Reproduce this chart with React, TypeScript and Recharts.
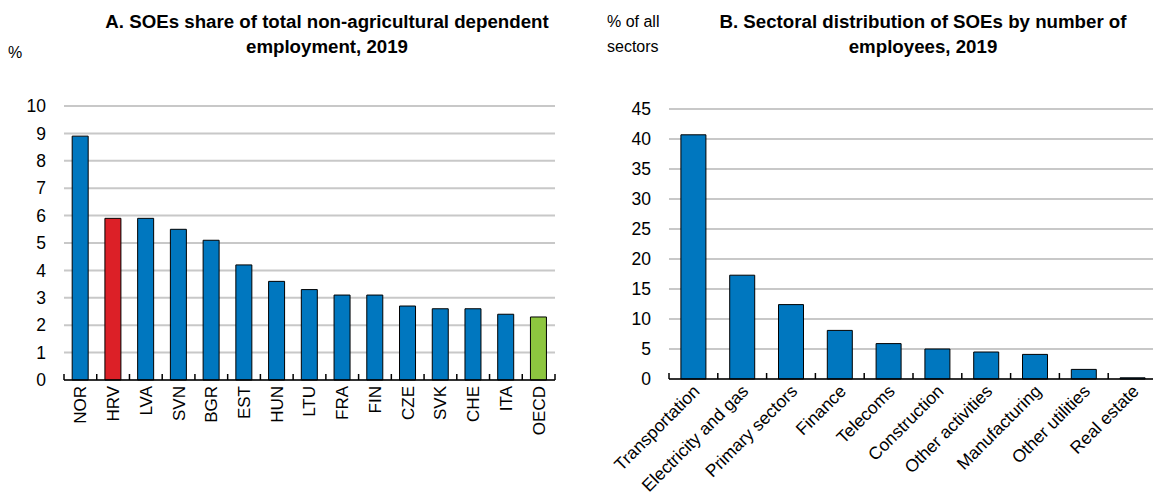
import React from "react";
import { BarChart, Bar, XAxis, YAxis, CartesianGrid, Cell } from "recharts";

const countries = ["NOR", "HRV", "LVA", "SVN", "BGR", "EST", "HUN", "LTU", "FRA", "FIN", "CZE", "SVK", "CHE", "ITA", "OECD"];
const soeShare = [8.9, 5.9, 5.9, 5.5, 5.1, 4.2, 3.6, 3.3, 3.1, 3.1, 2.7, 2.6, 2.6, 2.4, 2.3];
const shareTicks = [0, 1, 2, 3, 4, 5, 6, 7, 8, 9, 10];

const sectors = ["Transportation", "Electricity and gas", "Primary sectors", "Finance", "Telecoms", "Construction", "Other activities", "Manufacturing", "Other utilities", "Real estate"];
const sectorShare = [40.7, 17.3, 12.4, 8.1, 5.9, 5.0, 4.5, 4.1, 1.6, 0.2];
const sectorTicks = [0, 5, 10, 15, 20, 25, 30, 35, 40, 45];

const BLUE = "#0077bf";
const RED = "#dc2027";
const GREEN = "#8dc63f";
const GRID = "#c8c8c8";
const FONT = "'Liberation Sans', Arial, sans-serif";

const dataA = countries.map((name, i) => ({ name, value: soeShare[i] }));
const dataB = sectors.map((name, i) => ({ name, value: sectorShare[i] }));

const colorFor = (name: string) => (name === "HRV" ? RED : name === "OECD" ? GREEN : BLUE);

// category ticks sit on the boundaries between bars, pointing up
const makeTick = (step: number, angle: number, size: number) => (props: any) => {
  const { x, y, payload, index, visibleTicksCount } = props;
  const left = x - step / 2;
  const right = x + step / 2;
  const vertical = angle === -90;
  return (
    <g>
      <line x1={left} y1={y} x2={left} y2={y - 6} stroke="#000" strokeWidth={1.5} />
      {index === visibleTicksCount - 1 && (
        <line x1={right} y1={y} x2={right} y2={y - 6} stroke="#000" strokeWidth={1.5} />
      )}
      <text
        transform={`translate(${x + (vertical ? 0 : 3)},${y + (vertical ? 6 : 9)}) rotate(${angle})`}
        textAnchor="end"
        dy="0.35em"
        fontSize={size}
        fontFamily={FONT}
        fill="#000"
      >
        {payload.value}
      </text>
    </g>
  );
};

const App = () => {
  const stepA = 491 / countries.length;
  const stepB = 488 / sectors.length;
  return (
    <div style={{ position: "fixed", left: 0, top: 0, width: 1153, height: 495, background: "#fff", overflow: "hidden" }}>
      <div style={{ position: "absolute", left: 0, top: 0 }}>
        <BarChart
          width={580}
          height={495}
          data={dataA}
          margin={{ top: 106, right: 25, left: 0, bottom: 65 }}
          barCategoryGap="25%"
        >
          <CartesianGrid vertical={false} stroke={GRID} strokeWidth={2} />
          <XAxis
            dataKey="name"
            interval={0}
            height={50}
            tickSize={0}
            tickMargin={0}
            tickLine={false}
            axisLine={{ stroke: "#000", strokeWidth: 1.5 }}
            tick={makeTick(stepA, -90, 17)}
          />
          <YAxis
            width={64}
            domain={[0, 10]}
            ticks={shareTicks}
            interval={0}
            axisLine={false}
            tickLine={false}
            tickMargin={12}
            tick={{ fill: "#000", fontSize: 17.5, fontFamily: FONT }}
          />
          <Bar dataKey="value" isAnimationActive={false} stroke="#000" strokeWidth={1}>
            {dataA.map((d) => (
              <Cell key={d.name} fill={colorFor(d.name)} />
            ))}
          </Bar>
        </BarChart>
      </div>
      <div style={{ position: "absolute", left: 580, top: 0 }}>
        <BarChart
          width={577}
          height={495}
          data={dataB}
          margin={{ top: 109, right: 0, left: 0, bottom: 66 }}
          barCategoryGap="24.4%"
        >
          <CartesianGrid vertical={false} stroke={GRID} strokeWidth={2} />
          <XAxis
            dataKey="name"
            interval={0}
            height={50}
            tickSize={0}
            tickMargin={0}
            tickLine={false}
            axisLine={{ stroke: "#000", strokeWidth: 1.5 }}
            tick={makeTick(stepB, -45, 17.5)}
          />
          <YAxis
            width={89}
            domain={[0, 45]}
            ticks={sectorTicks}
            interval={0}
            axisLine={false}
            tickLine={false}
            tickMargin={12}
            tick={{ fill: "#000", fontSize: 17.5, fontFamily: FONT }}
          />
          <Bar dataKey="value" fill={BLUE} isAnimationActive={false} stroke="#000" strokeWidth={1} />
        </BarChart>
      </div>
      <div style={{ position: "absolute", left: 77, top: 9, width: 500, textAlign: "center", fontFamily: FONT, fontWeight: "bold", fontSize: 18.7, lineHeight: "25px" }}>
        A. SOEs share of total non-agricultural dependent
        <br />
        employment, 2019
      </div>
      <div style={{ position: "absolute", left: 8, top: 44, fontFamily: FONT, fontSize: 16 }}>%</div>
      <div style={{ position: "absolute", left: 673, top: 9, width: 500, textAlign: "center", fontFamily: FONT, fontWeight: "bold", fontSize: 18.7, lineHeight: "25px" }}>
        B. Sectoral distribution of SOEs by number of
        <br />
        employees, 2019
      </div>
      <div style={{ position: "absolute", left: 607, top: 9, fontFamily: FONT, fontSize: 16, lineHeight: "25px" }}>
        % of all
        <br />
        sectors
      </div>
    </div>
  );
};

export default App;
